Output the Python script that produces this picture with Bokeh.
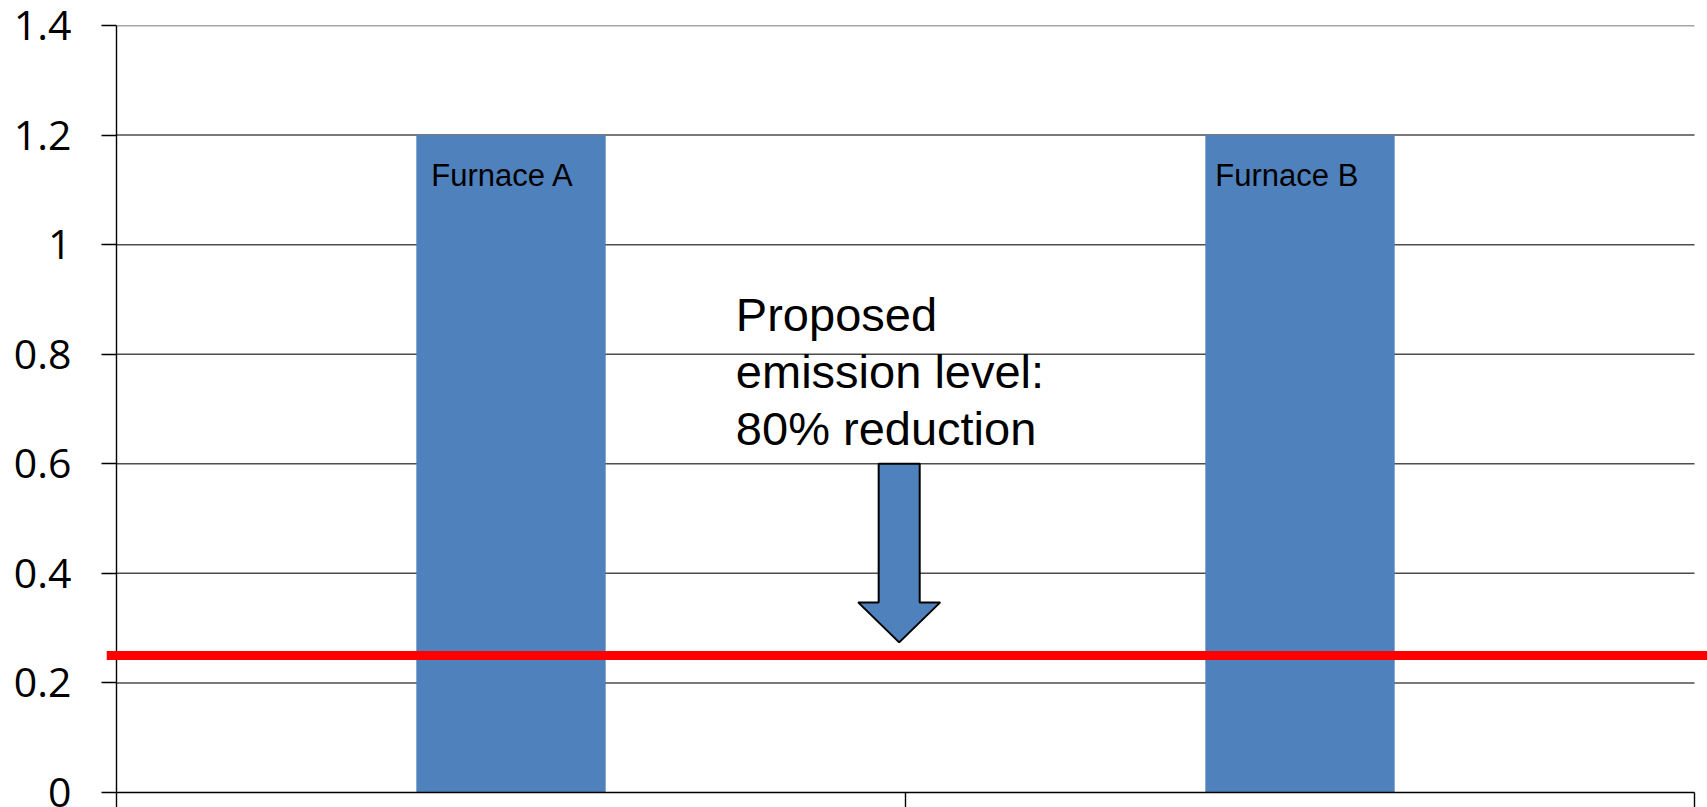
from bokeh.plotting import figure
from bokeh.models import Range1d, FixedTicker, Span
from bokeh.core.properties import value
from bokeh.embed import file_html
from bokeh.resources import INLINE

# --- data -----------------------------------------------------------------
furnaces = ["Furnace A", "Furnace B"]
emissions = [1.2, 1.2]
proposed_level = 0.25          # 80% reduction target line
y_ticks = [0, 0.2, 0.4, 0.6, 0.8, 1.0, 1.2, 1.4]
y_tick_labels = ["0", "0.2", "0.4", "0.6", "0.8", "1", "1.2", "1.4"]
annotation_lines = ["Proposed", "emission level:", "80% reduction"]

# --- layout helpers -------------------------------------------------------
n = len(furnaces)
centers = [i + 0.5 for i in range(n)]
bar_width = 0.24
bar_blue = "#4F81BD"
grid_color = "#4d4d4d"
px = 789.0                     # pixels per category on the x scale

p = figure(
    width=1707, height=807,
    x_range=Range1d(-10 / px, n + 13 / px),
    y_range=Range1d(0, 1.4),
    output_backend="svg", toolbar_location=None,
    min_border_left=106, min_border_right=0,
    min_border_top=25, min_border_bottom=15,
)
p.outline_line_color = None
p.background_fill_color = "white"
p.border_fill_color = "white"
p.xgrid.visible = False
p.ygrid.visible = False

# horizontal grid lines across the category span
grid_y = [t for t in y_ticks if t > 0]
p.segment(x0=[0] * len(grid_y), x1=[n] * len(grid_y), y0=grid_y, y1=grid_y,
          line_color=grid_color, line_width=1.5)

# value axis line at the start of the category span
p.segment(x0=[0], x1=[0], y0=[y_ticks[0]], y1=[y_ticks[-1]],
          line_color="black", line_width=1.4)

# bars
p.vbar(x=centers, top=emissions, width=bar_width, fill_color=bar_blue,
       line_color=None)

# bar names inside the top-left corner of each bar
p.text(x=[c - bar_width / 2 for c in centers], y=emissions, text=furnaces,
       x_offset=[15, 10], y_offset=40, text_baseline="alphabetic",
       text_align="left", text_font=value("Liberation Sans"),
       text_font_size="31px", text_color="black")

# proposed level line
p.add_layout(Span(location=proposed_level, dimension="width",
                  line_color="#FF0000", line_width=9))

# block arrow pointing at the proposed level
ax, sw, hw = 0.992, 0.026, 0.052
a_top, a_base, a_tip = 0.6, 0.347, 0.274
p.patch(x=[ax - sw, ax + sw, ax + sw, ax + hw, ax, ax - hw, ax - sw, ax - sw],
        y=[a_top, a_top, a_base, a_base, a_tip, a_base, a_base, a_top],
        fill_color=bar_blue, line_color="black", line_width=2)

# annotation text
line_step = 0.1045
p.text(x=[0.785] * len(annotation_lines),
       y=[0.8725 - i * line_step for i in range(len(annotation_lines))],
       text=annotation_lines, text_baseline="alphabetic", text_align="left",
       text_font=value("Liberation Sans"), text_font_size="47px",
       text_color="black")

# category axis: tick marks only
xa = p.xaxis[0]
xa.ticker = FixedTicker(ticks=list(range(n + 1)))
xa.major_label_overrides = {i: "" for i in range(n + 1)}
xa.bounds = (0, n)
xa.major_tick_out = 15
xa.major_tick_in = 0
xa.minor_tick_line_color = None
xa.major_label_text_font_size = "1px"
xa.major_label_standoff = 0
xa.axis_line_color = "black"
xa.axis_line_width = 1.4
xa.major_tick_line_color = "black"
xa.major_tick_line_width = 1.4

# value axis: ticks reach from the label side to the axis line at x=0
ya = p.yaxis[0]
ya.ticker = FixedTicker(ticks=y_ticks)
ya.major_label_overrides = dict(zip(y_ticks, y_tick_labels))
ya.major_tick_out = 5
ya.major_tick_in = 10
ya.minor_tick_line_color = None
ya.major_label_standoff = 30
ya.major_label_text_font = "Open Sans"
ya.major_label_text_font_size = "41px"
ya.major_label_text_color = "black"
ya.axis_line_color = None
ya.major_tick_line_color = "black"
ya.major_tick_line_width = 1.4

open("out.html", "w").write(file_html(p, INLINE))
